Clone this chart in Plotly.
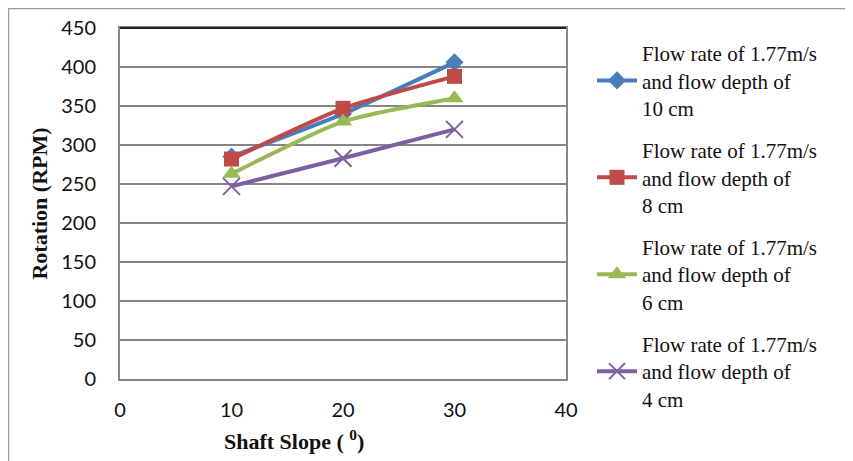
import plotly.graph_objects as go

slope = [10, 20, 30]
depth10 = [285, 340, 406]
depth8 = [282, 347, 388]
depth6 = [263, 330, 360]
depth4 = [247, 283, 320]

names = [
    "Flow rate of 1.77m/s<br>and flow depth of<br>10 cm",
    "Flow rate of 1.77m/s<br>and flow depth of<br>8 cm",
    "Flow rate of 1.77m/s<br>and flow depth of<br>6 cm",
    "Flow rate of 1.77m/s<br>and flow depth of<br>4 cm",
]
x_title = "Shaft Slope ( <sup>0</sup>)"
y_title = "Rotation (RPM)"
series = [depth10, depth8, depth6, depth4]
colors = ["#4A7EBB", "#BE4B48", "#98B954", "#7D60A0"]
symbols = ["diamond", "square", "triangle-up", "x-thin"]
sizes = [14, 15, 16, 17]

fig = go.Figure()
for i, (vals, nm, c, s, sz) in enumerate(zip(series, names, colors, symbols, sizes)):
    marker = dict(symbol=s, size=sz, color=c)
    if s == "x-thin":
        marker["line"] = dict(color=c, width=2)
    fig.add_trace(go.Scatter(
        x=slope, y=vals, name=nm, mode="lines+markers",
        line=dict(color=c, width=4, shape="spline", smoothing=0.6),
        marker=marker, legendgroup=f"g{i}",
    ))

OFF = 8  # page body margin
W, H = 853 - OFF, 461 - OFF
L, T = 120 - OFF, 28 - OFF
pw, ph = 446, 351

def px(x_page):
    return (x_page - OFF - L) / pw

def py(y_page):
    return (T + ph - (y_page - OFF)) / ph

fig.update_layout(
    width=W, height=H,
    margin=dict(l=L, r=W - L - pw, t=T, b=H - T - ph, autoexpand=False),
    paper_bgcolor="white", plot_bgcolor="white",
    showlegend=True,
    legend=dict(
        x=px(592), y=py(33), xanchor="left", yanchor="top",
        font=dict(family="Liberation Serif", size=21, color="#111"),
        tracegroupgap=12, itemwidth=40, bgcolor="rgba(0,0,0,0)",
        maxheight=440,
    ),
    xaxis=dict(
        range=[0, 40], dtick=10, tick0=0,
        showgrid=False, zeroline=False,
        showline=True, linecolor="#868686", linewidth=2, mirror=True,
        ticks="", ticklabelstandoff=12,
        tickfont=dict(family="Lato", size=20, color="#111"),
    ),
    yaxis=dict(
        range=[0, 450], dtick=50, tick0=0,
        showgrid=True, gridcolor="#868686", gridwidth=2, zeroline=False,
        showline=True, linecolor="#868686", linewidth=2, mirror=True,
        ticks="", ticklabelstandoff=18,
        tickfont=dict(family="Lato", size=20, color="#111"),
        title=dict(text=y_title, standoff=7,
                   font=dict(family="Liberation Serif", size=22, color="#111", weight="bold")),
    ),
    annotations=[
        dict(text=x_title, xref="paper", yref="paper", x=px(294), y=py(440),
             xanchor="center", yanchor="middle", showarrow=False,
             font=dict(family="Liberation Serif", size=22, color="#111", weight="bold")),
    ],
    shapes=[
        dict(type="line", xref="paper", yref="paper", x0=px(8), x1=px(853), y0=py(8.5), y1=py(8.5),
             line=dict(color="#9a9a9a", width=1.5)),
        dict(type="line", xref="paper", yref="paper", x0=px(8.5), x1=px(8.5), y0=py(8), y1=py(461),
             line=dict(color="#9a9a9a", width=1.5)),
        dict(type="line", xref="paper", yref="paper", x0=0, x1=1, y0=1, y1=1,
             line=dict(color="#222", width=2)),
    ],
)

fig.write_html("out.html")
